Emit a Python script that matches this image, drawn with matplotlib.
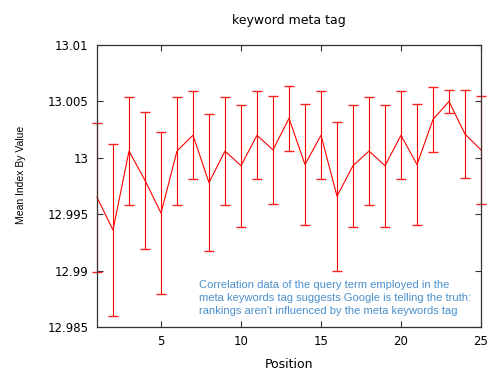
""" Mean index by position for the keyword meta tag. """

import matplotlib
matplotlib.use("Agg")
import matplotlib.pyplot as plt

positions = list(range(1, 26))
mean_index = [12.9965, 12.9936, 13.0006, 12.9980, 12.9951, 13.0006, 13.0020, 12.9978,
              13.0006, 12.9993, 13.0020, 13.0007, 13.0035, 12.9994, 13.0020, 12.9966,
              12.9993, 13.0006, 12.9993, 13.0020, 12.9994, 13.0034, 13.0050, 13.0021,
              13.0007]
error = [0.0066, 0.0076, 0.0048, 0.0061, 0.0072, 0.0048, 0.0039, 0.0061,
         0.0048, 0.0054, 0.0039, 0.0048, 0.0029, 0.0054, 0.0039, 0.0066,
         0.0054, 0.0048, 0.0054, 0.0039, 0.0054, 0.0029, 0.0010, 0.0039,
         0.0048]
y_ticks = [12.985, 12.99, 12.995, 13.0, 13.005, 13.01]
y_tick_labels = ["12.985", "12.99", "12.995", "13", "13.005", "13.01"]
x_ticks = [5, 10, 15, 20, 25]
note = ("Correlation data of the query term employed in the\n"
        "meta keywords tag suggests Google is telling the truth:\n"
        "rankings aren't influenced by the meta keywords tag")


def main(output_file):
    fig = plt.figure(figsize=(5, 3.75), dpi=100)
    ax = fig.add_axes([0.194, 0.128, 0.768, 0.752])

    bars = ax.errorbar(positions, mean_index, yerr=error, color="#ff0000", ecolor="#ff0000",
                       linewidth=0.8, elinewidth=0.8, capsize=3.6, capthick=1.0, clip_on=False)
    for cap in bars[1]:
        cap.set_markeredgecolor("#ff2020")

    ax.set_xlim(1, 25)
    ax.set_ylim(12.985, 13.01)
    ax.set_xticks(x_ticks)
    ax.set_yticks(y_ticks)
    ax.set_yticklabels(y_tick_labels)
    ax.tick_params(direction="in", top=True, right=True, length=4, width=0.8,
                   labelsize=8.5, color="#333333", pad=6)
    for spine in ax.spines.values():
        spine.set_color("#333333")
        spine.set_linewidth(0.9)

    ax.set_title("keyword meta tag", fontsize=9, pad=15)
    ax.set_xlabel("Position", fontsize=9, labelpad=7)
    ax.set_ylabel("Mean Index By Value", fontsize=7.5, family="Liberation Sans")
    ax.yaxis.set_label_coords(-0.185, 0.54)

    ax.text(0.266, 0.168, note, transform=ax.transAxes, fontsize=8,
            family="Liberation Sans", color="#4a90cc", va="top", linespacing=1.4)

    plt.savefig(output_file, dpi=100)


if __name__ == "__main__":
    main("out.png")
